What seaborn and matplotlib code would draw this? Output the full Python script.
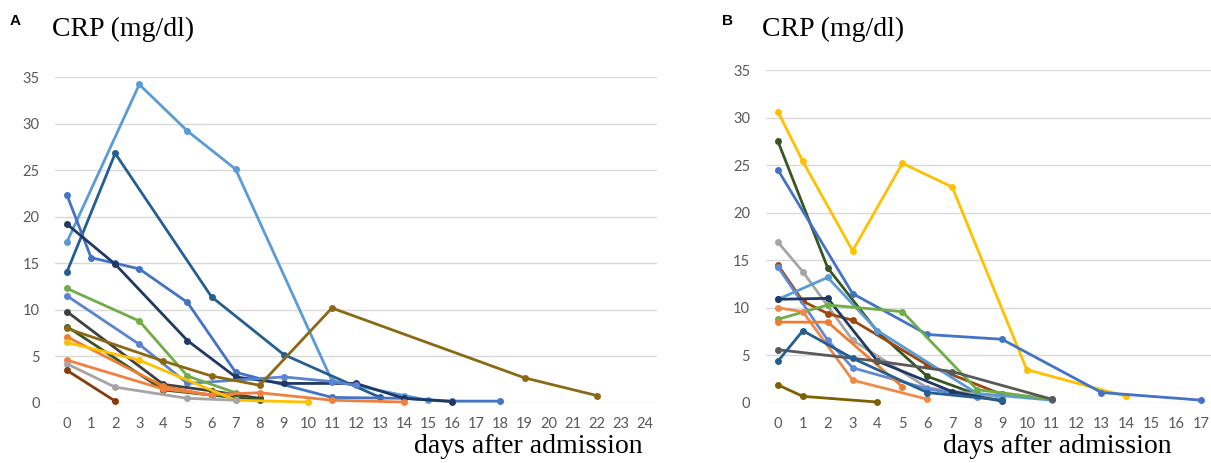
import pandas as pd
import seaborn as sns
import matplotlib.pyplot as plt

"""
Panel A series: (days, CRP mg/dl)
"""
a_lightblue = ([0, 3, 5, 7, 11, 14, 15], [17.3, 34.2, 29.2, 25.1, 2.4, 0.8, 0.3])
a_darkblue = ([0, 2, 6, 9, 13], [14.1, 26.8, 11.4, 5.2, 0.6])
a_blue = ([0, 1, 2, 3, 5, 7, 11, 14, 16, 18], [22.3, 15.6, 15.0, 14.4, 10.8, 3.3, 0.6, 0.5, 0.2, 0.2])
a_navy = ([0, 2, 5, 7, 9, 12, 14, 16], [19.2, 14.9, 6.7, 2.8, 2.1, 2.1, 0.5, 0.15])
a_blue2 = ([0, 3, 5, 9, 11, 12], [11.5, 6.3, 2.1, 2.8, 2.3, 1.9])
a_green = ([0, 3, 5, 7], [12.3, 8.8, 2.9, 1.1])
a_darkgray = ([0, 4, 6, 8], [9.8, 2.0, 1.3, 0.5])
a_darkgreen = ([0, 4, 8], [8.2, 1.4, 0.3])
a_olive = ([0, 4, 6, 8, 11, 19, 22], [8.0, 4.5, 2.9, 1.9, 10.2, 2.7, 0.8])
a_orange = ([0, 4, 6], [7.1, 1.8, 0.8])
a_orange2 = ([0, 4, 6, 8, 11, 14], [4.6, 1.5, 0.9, 1.1, 0.3, 0.1])
a_yellow = ([0, 3, 7, 10], [6.5, 4.6, 0.3, 0.1])
a_gray = ([0, 2, 5, 7], [4.2, 1.7, 0.5, 0.3])
a_darkred = ([0, 2], [3.5, 0.2])

"""
Panel B series
"""
b_yellow = ([0, 1, 3, 5, 7, 10, 14], [30.6, 25.4, 16.0, 25.2, 22.7, 3.5, 0.7])
b_darkgreen = ([0, 2, 4, 6, 8], [27.5, 14.2, 7.5, 2.8, 0.9])
b_blue = ([0, 3, 6, 9, 13, 17], [24.5, 11.5, 7.2, 6.7, 1.1, 0.3])
b_gray = ([0, 1, 3, 6, 9], [16.9, 13.8, 6.6, 1.6, 0.6])
b_brown = ([0, 1, 2, 3, 6, 9], [14.5, 10.7, 9.4, 8.7, 4.0, 0.9])
b_blue2 = ([0, 2, 3, 6, 8], [14.3, 6.6, 3.7, 1.5, 0.6])
b_lightblue = ([0, 2, 4, 8, 11], [10.9, 13.2, 7.6, 1.0, 0.3])
b_navy = ([0, 2, 4, 7, 9], [10.9, 11.0, 4.4, 1.2, 0.2])
b_green = ([0, 2, 5, 8, 11], [8.8, 10.3, 9.6, 1.4, 0.4])
b_orange = ([0, 1, 3, 6], [10.0, 9.6, 2.4, 0.4])
b_orange2 = ([0, 2, 5], [8.5, 8.5, 1.7])
b_darkgray = ([0, 4, 7, 11], [5.6, 4.4, 3.3, 0.4])
b_steel = ([0, 1, 3, 6, 9], [4.4, 7.6, 4.7, 1.1, 0.3])
b_olive = ([0, 1, 4], [1.9, 0.7, 0.1])

colors_a = {
    "lightblue": "#5B9BD5", "darkblue": "#255E91", "blue": "#4472C4",
    "navy": "#203864", "blue2": "#5B84D0", "green": "#70AD47",
    "darkgray": "#404040", "darkgreen": "#375623", "olive": "#8B6914",
    "orange": "#ED7D31", "orange2": "#F08040", "yellow": "#FFC000",
    "gray": "#A5A5A5", "darkred": "#843C0C",
}
colors_b = {
    "yellow": "#FFC000", "darkgreen": "#375623", "blue": "#4472C4",
    "gray": "#A5A5A5", "brown": "#9E480E", "blue2": "#6088D4",
    "lightblue": "#5B9BD5", "navy": "#203864", "green": "#70AD47",
    "orange": "#F08A4B", "orange2": "#ED7D31", "darkgray": "#595959",
    "steel": "#255E91", "olive": "#7F6000",
}

series_a = {"lightblue": a_lightblue, "darkblue": a_darkblue, "blue": a_blue,
            "navy": a_navy, "blue2": a_blue2, "green": a_green,
            "darkgray": a_darkgray, "darkgreen": a_darkgreen, "olive": a_olive,
            "orange": a_orange, "orange2": a_orange2, "yellow": a_yellow,
            "gray": a_gray, "darkred": a_darkred}
series_b = {"yellow": b_yellow, "darkgreen": b_darkgreen, "blue": b_blue,
            "gray": b_gray, "brown": b_brown, "blue2": b_blue2,
            "lightblue": b_lightblue, "navy": b_navy, "green": b_green,
            "orange": b_orange, "orange2": b_orange2, "darkgray": b_darkgray,
            "steel": b_steel, "olive": b_olive}


def to_frame(series):
    rows = []
    for name, (days, vals) in series.items():
        for d, v in zip(days, vals):
            rows.append({"patient": name, "day": d, "crp": v})
    return pd.DataFrame(rows)


sns.set_style("white")
plt.rcParams['font.family'] = ['Lato', 'DejaVu Sans']

W, H = 1211, 463
fig = plt.figure(figsize=(W / 100, H / 100), dpi=100)

# axes boxes in pixels: left, top, right, bottom
ax_a = fig.add_axes([55 / W, 1 - 403 / H, 602 / W, 326 / H])
ax_b = fig.add_axes([765.5 / W, 1 - 403 / H, 445.5 / W, 333 / H])


def draw(ax, series, colors, max_day, xlim):
    df = to_frame(series)
    sns.lineplot(data=df, x="day", y="crp", hue="patient", palette=colors,
                 estimator=None, sort=False, legend=False, ax=ax,
                 linewidth=2, marker="o", markersize=5, markeredgewidth=0,
                 clip_on=False)
    ax.set_xlim(*xlim)
    ax.set_ylim(0, 35)
    ax.set_xticks(range(0, max_day + 1))
    ax.set_yticks(range(0, 36, 5))
    ax.set_xlabel("")
    ax.set_ylabel("")
    ax.yaxis.grid(True, color="#D9D9D9", linewidth=1)
    ax.xaxis.grid(False)
    ax.set_axisbelow(True)
    for s in ax.spines.values():
        s.set_visible(False)
    ax.tick_params(length=0, labelsize=10.5, labelcolor="#595959")
    ax.tick_params(axis="y", pad=11)
    ax.tick_params(axis="x", pad=10)


draw(ax_a, series_a, colors_a, 24, (-0.5, 24.5))
draw(ax_b, series_b, colors_b, 17, (-0.5, 17.4))

serif = ['Liberation Serif', 'DejaVu Serif']
fig.text(52 / W, 1 - 36 / H, "CRP (mg/dl)", family=serif, fontsize=20,
         va="baseline", color="black")
fig.text(762 / W, 1 - 36 / H, "CRP (mg/dl)", family=serif, fontsize=20,
         va="baseline", color="black")
fig.text(643 / W, 1 - 453 / H, "days after admission", family=serif, fontsize=20,
         ha="right", va="baseline", color="black")
fig.text(1172 / W, 1 - 453 / H, "days after admission", family=serif, fontsize=20,
         ha="right", va="baseline", color="black")
fig.text(10 / W, 1 - 25 / H, "A", family=['Liberation Sans', 'DejaVu Sans'],
         fontsize=11, fontweight="bold", va="baseline", color="black")
fig.text(722 / W, 1 - 25 / H, "B", family=['Liberation Sans', 'DejaVu Sans'],
         fontsize=11, fontweight="bold", va="baseline", color="black")

plt.savefig("out.png", dpi=100)
